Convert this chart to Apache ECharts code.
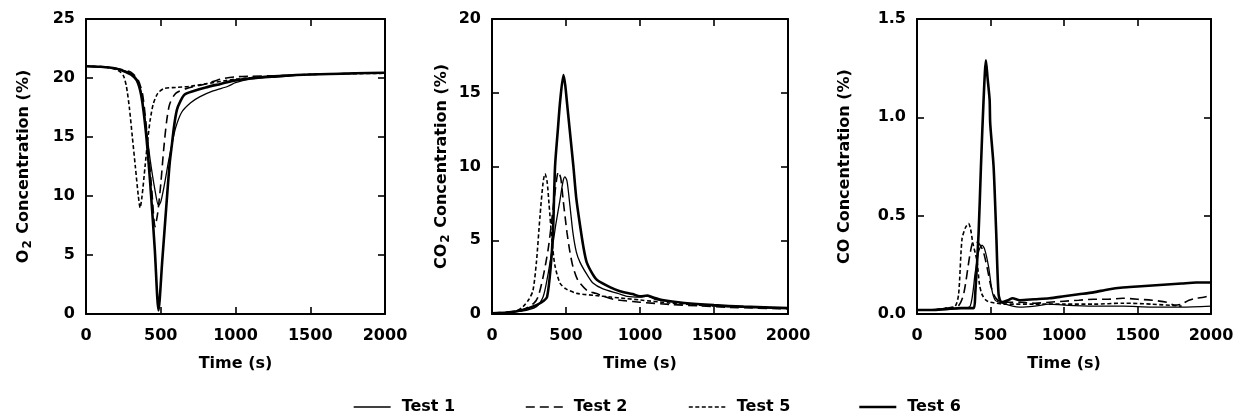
<!DOCTYPE html>
<html><head><meta charset="utf-8">
<script src="https://cdn.jsdelivr.net/npm/echarts@6/dist/echarts.min.js"></script>
<style>html,body{margin:0;padding:0;background:#fff}#c{width:1240px;height:416px}</style>
</head><body><div id="c"></div>
<script>
// ---- data (time in s, concentration in %) ----
const testNames = ['Test 1', 'Test 2', 'Test 5', 'Test 6'];
const timeTicks = [0, 500, 1000, 1500, 2000];
const o2Ticks = [0, 5, 10, 15, 20, 25];
const co2Ticks = [0, 5, 10, 15, 20];
const coTicks = [0.0, 0.5, 1.0, 1.5];

const o2Test1 = [[0,21.0],[100,20.95],[200,20.8],[300,20.4],[340,19.9],[370,18.7],[400,16.0],[430,13.0],[460,10.6],[485,9.2],[500,9.5],[525,11.0],[550,12.8],[575,14.4],[600,15.8],[640,17.1],[700,17.9],[760,18.4],[850,18.9],[950,19.3],[1000,19.6],[1100,19.9],[1300,20.1],[1500,20.3],[1800,20.4],[2000,20.45]];
const o2Test2 = [[0,21.0],[100,20.95],[200,20.8],[300,20.5],[350,19.8],[380,18.5],[410,15.0],[440,10.5],[462,7.4],[480,8.6],[500,11.0],[520,14.0],[540,16.4],[560,17.8],[600,18.7],[670,19.1],[800,19.5],[900,19.9],[1000,20.1],[1100,20.15],[1300,20.2],[1500,20.3],[2000,20.45]];
const o2Test5 = [[0,21.0],[150,20.9],[220,20.6],[250,20.2],[270,19.3],[290,17.5],[310,15.0],[330,12.5],[350,10.0],[362,9.0],[375,10.0],[395,12.5],[415,15.0],[430,16.5],[450,17.8],[480,18.7],[520,19.1],[600,19.2],[700,19.3],[800,19.5],[1000,19.9],[1200,20.1],[1500,20.3],[2000,20.4]];
const o2Test6 = [[0,21.0],[100,20.95],[200,20.8],[250,20.6],[300,20.3],[340,19.8],[370,18.5],[400,15.5],[430,11.0],[460,5.5],[485,0.3],[510,4.5],[540,9.6],[560,12.8],[575,14.4],[590,16.0],[608,17.3],[630,18.0],[660,18.6],[720,18.9],[800,19.2],[900,19.5],[1000,19.8],[1200,20.1],[1500,20.3],[1800,20.4],[2000,20.45]];

const co2Test1 = [[0,0.05],[200,0.2],[300,0.5],[345,1.15],[375,2.5],[405,4.3],[430,6.0],[459,7.7],[480,9.0],[493,9.3],[507,9.0],[525,7.5],[547,5.5],[570,4.2],[595,3.5],[640,2.7],[682,2.1],[750,1.7],[850,1.4],[912,1.2],[1000,1.15],[1050,1.22],[1100,1.0],[1200,0.85],[1400,0.65],[1600,0.5],[2000,0.4]];
const co2Test2 = [[0,0.05],[200,0.25],[280,0.7],[311,1.15],[345,2.5],[378,4.3],[400,6.0],[419,7.7],[449,9.65],[465,9.2],[480,7.8],[495,6.5],[507,5.5],[525,4.3],[547,3.2],[580,2.3],[642,1.6],[700,1.4],[818,1.0],[900,0.9],[1000,0.8],[1200,0.65],[1400,0.55],[1600,0.45],[2000,0.35]];
const co2Test5 = [[0,0.05],[150,0.15],[210,0.5],[250,1.0],[277,1.6],[300,3.5],[324,6.6],[345,8.9],[358,9.5],[372,9.0],[385,7.5],[405,5.0],[425,3.3],[459,2.1],[500,1.7],[574,1.4],[700,1.25],[800,1.15],[900,1.05],[1000,0.95],[1200,0.75],[1400,0.6],[1600,0.5],[2000,0.4]];
const co2Test6 = [[0,0.05],[100,0.1],[200,0.25],[300,0.6],[350,0.9],[372,1.15],[395,3.0],[412,5.5],[426,10.0],[445,12.5],[461,14.5],[483,16.2],[495,15.5],[505,14.5],[525,12.5],[550,10.0],[570,7.8],[595,6.0],[620,4.4],[640,3.5],[680,2.7],[710,2.3],[800,1.8],[865,1.55],[950,1.35],[1000,1.2],[1050,1.25],[1080,1.15],[1150,0.95],[1300,0.75],[1500,0.6],[1700,0.5],[2000,0.4]];

const coTest1 = [[0,0.02],[100,0.02],[200,0.025],[300,0.03],[362,0.04],[396,0.21],[420,0.32],[442,0.35],[460,0.33],[487,0.24],[510,0.12],[532,0.07],[560,0.06],[650,0.04],[700,0.035],[800,0.04],[900,0.05],[1000,0.045],[1200,0.04],[1400,0.04],[1600,0.035],[1800,0.035],[2000,0.04]];
const coTest2 = [[0,0.02],[100,0.02],[200,0.03],[280,0.04],[317,0.1],[362,0.31],[385,0.37],[420,0.36],[450,0.32],[476,0.24],[500,0.15],[521,0.1],[550,0.07],[600,0.06],[700,0.06],[800,0.055],[900,0.06],[1000,0.065],[1100,0.07],[1200,0.075],[1300,0.075],[1400,0.08],[1500,0.075],[1600,0.07],[1700,0.06],[1750,0.045],[1800,0.05],[1850,0.07],[1900,0.08],[1950,0.085],[2000,0.095]];
const coTest5 = [[0,0.02],[100,0.02],[200,0.03],[260,0.04],[283,0.1],[306,0.38],[330,0.44],[351,0.46],[365,0.43],[380,0.36],[408,0.27],[425,0.15],[442,0.1],[470,0.07],[500,0.06],[600,0.05],[800,0.05],[1000,0.05],[1200,0.05],[1400,0.055],[1600,0.05],[1800,0.04]];
const coTest6 = [[0,0.02],[100,0.02],[200,0.025],[300,0.03],[385,0.03],[396,0.1],[419,0.41],[435,0.75],[453,1.09],[469,1.29],[480,1.2],[494,1.09],[498,0.97],[521,0.75],[539,0.41],[555,0.1],[575,0.06],[620,0.07],[650,0.08],[700,0.07],[800,0.075],[900,0.08],[1000,0.09],[1100,0.1],[1200,0.11],[1300,0.125],[1400,0.135],[1500,0.14],[1600,0.145],[1700,0.15],[1800,0.155],[1900,0.16],[2000,0.16]];

// ---- styling ----
const FONT = 'DejaVu Sans';
const FS = 16;
const lineStyles = {
  'Test 1': {width: 1.3, type: 'solid'},
  'Test 2': {width: 1.6, type: [9, 5]},
  'Test 5': {width: 1.6, type: [4, 2.5]},
  'Test 6': {width: 2.6, type: 'solid'}
};
const grids = [
  {left: 86, top: 19, width: 299, height: 295},
  {left: 492, top: 19, width: 296, height: 295},
  {left: 917, top: 19, width: 294, height: 295}
];
const panels = [
  {ticks: o2Ticks, name: '{a|O}{s|2}{a| Concentration (%)}', gap: 52, dec: 0,
   data: [o2Test1, o2Test2, o2Test5, o2Test6]},
  {ticks: co2Ticks, name: '{a|CO}{s|2}{a| Concentration (%)}', gap: 40, dec: 0,
   data: [co2Test1, co2Test2, co2Test5, co2Test6]},
  {ticks: coTicks, name: '{a|CO Concentration (%)}', gap: 64, dec: 1,
   data: [coTest1, coTest2, coTest5, coTest6]}
];

const axisLine = {show: true, onZero: false, lineStyle: {color: '#000', width: 2}};
const axisTick = {show: true, inside: true, length: 7, lineStyle: {color: '#000', width: 1.6}};
const labelStyle = {color: '#000', fontSize: FS, fontWeight: 'bold', fontFamily: FONT};

const xAxis = [], yAxis = [], series = [];
panels.forEach((p, i) => {
  const tmin = timeTicks[0], tmax = timeTicks[timeTicks.length - 1];
  const step = timeTicks[1] - timeTicks[0];
  xAxis.push({type: 'value', gridIndex: i, min: tmin, max: tmax, interval: step, position: 'bottom',
    axisLine, axisTick, splitLine: {show: false},
    axisLabel: Object.assign({margin: 14, formatter: v => String(v)}, labelStyle),
    name: 'Time (s)', nameLocation: 'middle', nameGap: 42,
    nameTextStyle: Object.assign({}, labelStyle)});
  xAxis.push({type: 'value', gridIndex: i, min: tmin, max: tmax, interval: step, position: 'top',
    axisLine, axisTick, splitLine: {show: false}, axisLabel: {show: false}});
  const ymin = p.ticks[0], ymax = p.ticks[p.ticks.length - 1], ystep = p.ticks[1] - p.ticks[0];
  yAxis.push({type: 'value', gridIndex: i, min: ymin, max: ymax, interval: ystep, position: 'left',
    axisLine, axisTick, splitLine: {show: false},
    axisLabel: Object.assign({margin: 11, formatter: v => v.toFixed(p.dec)}, labelStyle),
    name: p.name, nameLocation: 'middle', nameGap: p.gap, nameRotate: 90,
    nameTextStyle: {color: '#000', fontFamily: FONT, fontSize: FS, fontWeight: 'bold',
      rich: {a: {fontSize: FS, fontWeight: 'bold', fontFamily: FONT, color: '#000'},
             s: {fontSize: 12, fontWeight: 'bold', fontFamily: FONT, color: '#000', padding: [9, 1, 0, 1]}}}});
  yAxis.push({type: 'value', gridIndex: i, min: ymin, max: ymax, interval: ystep, position: 'right',
    axisLine, axisTick, splitLine: {show: false}, axisLabel: {show: false}});
  testNames.forEach((n, k) => {
    series.push({type: 'line', name: n, xAxisIndex: 2 * i, yAxisIndex: 2 * i,
      data: p.data[k], showSymbol: false, symbol: 'none', smooth: 0.25,
      lineStyle: Object.assign({color: '#000'}, lineStyles[n]), itemStyle: {color: '#000'},
      z: n === 'Test 6' ? 4 : 3});
  });
});

const legendLeft = [348, 520, 683, 853];
const legend = testNames.map((n, k) => ({
  left: legendLeft[k], top: 394, data: [n], itemWidth: 37, itemHeight: 14, itemGap: 0,
  selectedMode: false, itemStyle: {opacity: 0},
  lineStyle: Object.assign({color: '#000'}, lineStyles[n]),
  textStyle: {color: '#000', fontSize: FS, fontWeight: 'bold', fontFamily: FONT, padding: [0, 0, 0, 6]}
}));

const chart = echarts.init(document.getElementById('c'), null, {renderer: 'canvas'});
chart.setOption({
  backgroundColor: '#fff', animation: false,
  grid: grids, xAxis, yAxis, series, legend
});
</script></body></html>
